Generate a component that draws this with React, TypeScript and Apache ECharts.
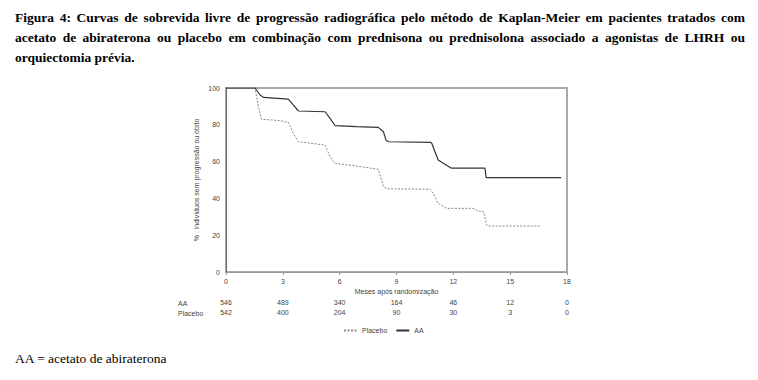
import React, { useEffect, useRef } from "react";
import * as echarts from "echarts";

const titleLines = [
  "Figura 4: Curvas de sobrevida livre de progressão radiográfica pelo método de Kaplan-Meier em pacientes tratados com",
  "acetato de abiraterona ou placebo em combinação com prednisona ou prednisolona associado a agonistas de LHRH ou",
  "orquiectomia prévia.",
];
const footnote = "AA = acetato de abiraterona";
const xTicks = [0, 3, 6, 9, 12, 15, 18];
const yTicks = [0, 20, 40, 60, 80, 100];
const riskAA = [546, 489, 340, 164, 46, 12, 0];
const riskPlacebo = [542, 400, 204, 90, 30, 3, 0];

const aaCurve: [number, number][] = [
  [0, 100], [1.53, 100], [1.8, 96.2], [1.97, 94.9], [3.29, 94], [3.55, 90.8], [3.82, 87.5],
  [5.23, 87.1], [5.49, 83.5], [5.76, 79.5], [6.9, 79], [8.04, 78.6], [8.31, 76.2], [8.45, 71.5],
  [8.6, 70.8], [10.8, 70.5], [10.86, 70], [11.03, 65.4], [11.2, 60.9], [11.47, 59.1], [11.9, 56.4],
  [13.67, 56.4], [13.73, 51.3], [17.69, 51.3],
];
const placeboCurve: [number, number][] = [
  [0, 100], [1.53, 100], [1.71, 89.9], [1.88, 83], [2.85, 82.3], [3.29, 81.2], [3.55, 75.4],
  [3.82, 70.8], [5.23, 69], [5.49, 62.7], [5.76, 59], [6.9, 57.6], [8.04, 55.8], [8.31, 46.4],
  [8.5, 45.2], [10.77, 45], [10.93, 42.8], [11.2, 37.3], [11.65, 34.6], [13.04, 34.6],
  [13.4, 32.8], [13.6, 32.8], [13.76, 25.5], [13.85, 25], [16.58, 25],
];

const TITLE_FONT = 'bold 13.5px "Liberation Serif"';

function measure(text: string, font: string): number {
  const c = document.createElement("canvas").getContext("2d")!;
  c.font = font;
  return c.measureText(text).width;
}

function justified(line: string, x0: number, x1: number, y: number): any[] {
  const words = line.split(" ");
  const widths = words.map((w) => measure(w, TITLE_FONT));
  const total = widths.reduce((a, b) => a + b, 0);
  const gap = (x1 - x0 - total) / (words.length - 1);
  let x = x0;
  return words.map((w, i) => {
    const el = {
      type: "text",
      x,
      y,
      style: {
        text: w,
        font: TITLE_FONT,
        fill: "#000",
        textAlign: "left",
        textVerticalAlign: "middle",
      },
    };
    x += widths[i] + gap;
    return el;
  });
}

const small = { fontSize: 7, fontFamily: "Liberation Sans", color: "#444" };

export default function App() {
  const ref = useRef<HTMLDivElement>(null);
  useEffect(() => {
    const chart = echarts.init(ref.current!, undefined, { renderer: "svg" });
    const baseX = {
      type: "value",
      min: 0,
      max: 18,
      interval: 3,
      gridIndex: 0,
    };
    const graphics: any[] = [
      ...justified(titleLines[0], 15, 745, 17),
      ...justified(titleLines[1], 15, 745, 37),
      {
        type: "text",
        x: 15,
        y: 57,
        style: { text: titleLines[2], font: TITLE_FONT, fill: "#000", textVerticalAlign: "middle" },
      },
      {
        type: "text",
        x: 15,
        y: 358,
        style: {
          text: footnote,
          font: '13.5px "Liberation Serif"',
          fill: "#000",
          textVerticalAlign: "middle",
        },
      },
      {
        type: "text",
        x: 178,
        y: 303,
        style: { text: "AA", font: '7px "Liberation Sans"', fill: "#444", textVerticalAlign: "middle" },
      },
      {
        type: "text",
        x: 178,
        y: 313,
        style: { text: "Placebo", font: '7px "Liberation Sans"', fill: "#444", textVerticalAlign: "middle" },
      },
    ];
    chart.setOption({
      animation: false,
      backgroundColor: "#fff",
      grid: {
        left: 226,
        right: 191,
        top: 88,
        bottom: 108,
        show: true,
        borderColor: "#aaa",
        borderWidth: 2,
      },
      legend: {
        data: ["Placebo", "AA"],
        left: 338,
        top: 322,
        itemWidth: 13,
        itemHeight: 7,
        itemGap: 8,
        itemStyle: { opacity: 0 },
        textStyle: small,
      },
      xAxis: [
        {
          ...baseX,
          name: "Meses após randomização",
          nameLocation: "middle",
          nameGap: 16,
          nameTextStyle: small,
          axisLine: { show: true, lineStyle: { color: "#999", width: 1 } },
          axisTick: { show: true, length: 3, lineStyle: { color: "#999" } },
          axisLabel: { ...small, margin: 6 },
          splitLine: { show: false },
        },
        {
          ...baseX,
          position: "bottom",
          offset: 21,
          axisLine: { show: false },
          axisTick: { show: false },
          splitLine: { show: false },
          axisLabel: {
            ...small,
            margin: 6,
            formatter: (v: number) => {
              const i = xTicks.indexOf(v);
              return i >= 0 ? String(riskAA[i]) : "";
            },
          },
        },
        {
          ...baseX,
          position: "bottom",
          offset: 31,
          axisLine: { show: false },
          axisTick: { show: false },
          splitLine: { show: false },
          axisLabel: {
            ...small,
            margin: 6,
            formatter: (v: number) => {
              const i = xTicks.indexOf(v);
              return i >= 0 ? String(riskPlacebo[i]) : "";
            },
          },
        },
      ],
      yAxis: {
        type: "value",
        min: 0,
        max: 100,
        interval: 20,
        name: "% : indivíduos sem progressão ou óbito",
        nameLocation: "middle",
        nameGap: 26,
        nameTextStyle: small,
        axisLine: { show: true, lineStyle: { color: "#666", width: 1 } },
        axisTick: { show: false },
        axisLabel: {
          ...small,
          margin: 6,
          formatter: (v: number) => (yTicks.includes(v) ? String(v) : ""),
        },
        splitLine: { show: false },
      },
      series: [
        {
          name: "Placebo",
          type: "line",
          data: placeboCurve,
          showSymbol: false,
          symbol: "none",
          lineStyle: { color: "#888", width: 1, type: [2, 1.5] },
          itemStyle: { color: "#888" },
          z: 3,
        },
        {
          name: "AA",
          type: "line",
          data: aaCurve,
          showSymbol: false,
          symbol: "none",
          lineStyle: { color: "#333", width: 1.2 },
          itemStyle: { color: "#333" },
          z: 4,
        },
      ],
      graphic: graphics,
    });
    return () => chart.dispose();
  }, []);
  return <div ref={ref} style={{ width: 758, height: 380, position: "absolute", left: 0, top: 0 }} />;
}
